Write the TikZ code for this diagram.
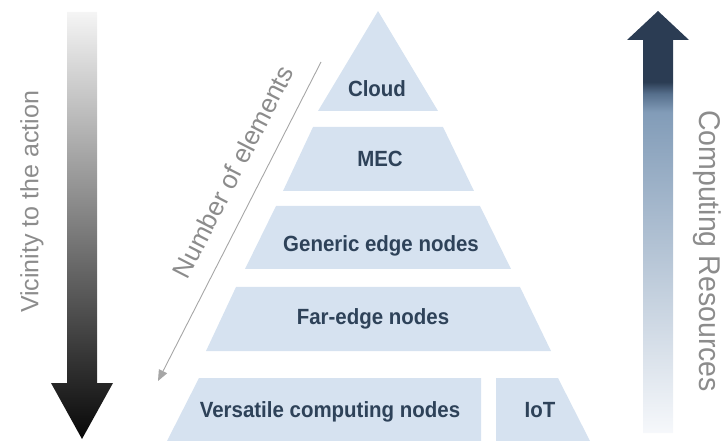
\documentclass[tikz,border=0pt]{standalone}
\usepackage{fontspec}
\setmainfont{Liberation Sans}
\usetikzlibrary{arrows.meta}
\definecolor{tierfill}{HTML}{D6E2F0}
\definecolor{tiertext}{HTML}{2E4259}
\definecolor{sidegray}{HTML}{8C8C8C}
\definecolor{linegray}{HTML}{A6A6A6}
\definecolor{rbA}{HTML}{F6F8FB}
\definecolor{rbB}{HTML}{829CB8}
\definecolor{rbC}{HTML}{566F8C}
\definecolor{rbD}{HTML}{2B3C53}
\pgfdeclareverticalshading{compres}{100bp}{color(0bp)=(rbA); color(25bp)=(rbA); color(63bp)=(rbB); color(65.2bp)=(rbC); color(66.6bp)=(rbD); color(75bp)=(rbD); color(100bp)=(rbD)}
\begin{document}
\begin{tikzpicture}[x=1pt,y=-1pt,
  tier/.style={fill=tierfill,draw=none},
  tierlabel/.style={font=\fontsize{22}{24}\selectfont\bfseries,text=tiertext,anchor=base,inner sep=0pt,xscale=0.93},
  sidelabel/.style={text=sidegray,inner sep=0pt},
  numarrow/.style={draw=linegray,line width=0.9pt,-{Triangle[length=11pt,width=9pt]}}]
\useasboundingbox (0,0) rectangle (724,441);
% left arrow
\shade[top color=black!4,bottom color=black!97]
  (67,12) -- (97,12) -- (97,383) -- (113,383) -- (82,439) -- (51,383) -- (67,383) -- cycle;
\node[sidelabel,rotate=90,font=\fontsize{25}{27}\selectfont] (vic) at (32,202) {Vicinity to the action};
% right arrow
\shade[shading=compres]
  (643,433) -- (673,433) -- (673,40) -- (689,40) -- (658,11) -- (627,40) -- (643,40) -- cycle;
\node[sidelabel,rotate=-90,font=\fontsize{30}{32}\selectfont,xscale=0.95] (comp) at (707,251) {Computing Resources};
% pyramid tiers
\fill[tier] (378,11) -- (438,111) -- (318,111) -- cycle;
\fill[tier] (313,127) -- (443,127) -- (474,191) -- (283,191) -- cycle;
\fill[tier] (276,206) -- (480,206) -- (511,269) -- (245,269) -- cycle;
\fill[tier] (236,287) -- (520,287) -- (551,351) -- (206,351) -- cycle;
\fill[tier] (199,378) -- (481,378) -- (481,441) -- (167,441) -- cycle;
\fill[tier] (496,378) -- (558,378) -- (590,441) -- (496,441) -- cycle;
\node[tierlabel] (cloud) at (377,97) {Cloud};
\node[tierlabel] (mec) at (380,167) {MEC};
\node[tierlabel] (gen) at (381,252) {Generic edge nodes};
\node[tierlabel] (far) at (373,324) {Far-edge nodes};
\node[tierlabel] (vers) at (330,417) {Versatile computing nodes};
\node[tierlabel] (iot) at (540,417) {IoT};
% number of elements arrow
\coordinate (ne1) at (321,62);
\coordinate (ne2) at (158,381);
\draw[numarrow] (ne1) -- (ne2);
\node[sidelabel,rotate=62.9,font=\fontsize{26}{28}\selectfont] (num) at (233,172) {Number of elements};
\end{tikzpicture}
\end{document}
